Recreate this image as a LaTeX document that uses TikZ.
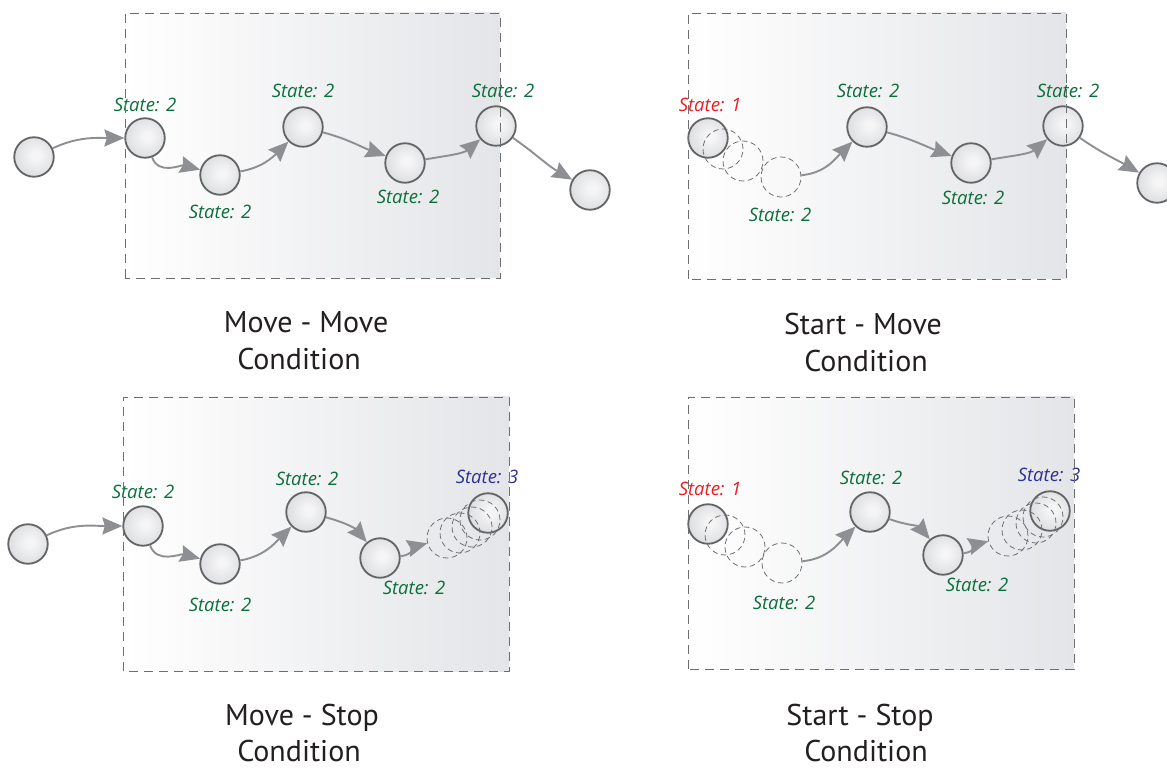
\documentclass[tikz,border=0pt]{standalone}
\usepackage{fontspec}
\setmainfont{PT Sans}
\newfontfamily\labelfont{Open Sans}
\usetikzlibrary{arrows.meta}

\definecolor{stgreen}{HTML}{0B6F3B}
\definecolor{stred}{HTML}{ED1C24}
\definecolor{stblue}{HTML}{2E3192}
\definecolor{titleblack}{HTML}{231F20}
\definecolor{ballrim}{HTML}{636466}
\definecolor{ballhi}{HTML}{F5F5F6}
\definecolor{ballmid}{HTML}{DCDDDF}
\definecolor{balllo}{HTML}{ABACAF}
\definecolor{ghostgray}{HTML}{707173}
\definecolor{flowgray}{HTML}{8E8F92}
\definecolor{panelgray}{HTML}{E4E5E8}
\definecolor{framegray}{HTML}{6D6E70}

% soft sphere look for the moving object
\pgfdeclareradialshading{ballshade}{\pgfpoint{3bp}{2bp}}{%
  color(0bp)=(ballhi); color(5bp)=(ballhi); color(28bp)=(ballmid);
  color(50bp)=(balllo); color(70bp)=(balllo)}

\tikzset{
  ball/.style={circle, draw=ballrim, line width=1.8pt, minimum size=39.5pt,
    inner sep=0pt, shading=ballshade},
  ghost/.style={circle, draw=ghostgray, line width=0.8pt,
    dash pattern=on 5.5pt off 3.5pt, minimum size=40pt, inner sep=0pt},
  flow/.style={draw=flowgray, line width=1.9pt,
    -{Stealth[length=20pt,width=17pt,inset=2.5pt,fill=flowgray]}},
  panel/.style={left color=white, right color=panelgray},
  frame/.style={draw=framegray, line width=0.9pt, dash pattern=on 9pt off 6pt},
  lbl/.style={font=\labelfont\fontsize{18.5}{22}\selectfont\itshape, inner sep=0pt},
  s1/.style={lbl, text=stred},
  s2/.style={lbl, text=stgreen},
  s3/.style={lbl, text=stblue},
  title/.style={font=\fontsize{30}{36}\selectfont, text=titleblack,
    anchor=base, inner sep=0pt}
}

\begin{document}
\begin{tikzpicture}[x=1pt, y=1pt]
\useasboundingbox (0,0) rectangle (1167,769);

% shaded panel backgrounds
\path[panel] (125,491) rectangle (500,756);
\path[panel] (688,490) rectangle (1066,756);
\path[panel] (123,98) rectangle (509,372);
\path[panel] (688,100) rectangle (1074,372);

% ---------- Move - Move ----------
\node[ball] (a0) at (34,612) {};
\node[ball] (a1) at (145,631) {};
\node[ball] (a2) at (220,594) {};
\node[ball] (a3) at (303,642) {};
\node[ball] (a4) at (405,606) {};
\node[ball] (a5) at (496,643) {};
\node[ball] (a6) at (590,579) {};
\node[s2] (la1) at (145,664) {State: 2};
\node[s2] (la2) at (220,557) {State: 2};
\node[s2] (la3) at (303,678) {State: 2};
\node[s2] (la4) at (408,572) {State: 2};
\node[s2] (la5) at (503,678) {State: 2};
\draw[flow] (a0) to[out=25, in=180] (a1);
\draw[flow] (a1) to[out=-70, in=165] (a2);
\draw[flow] (a2) to[out=10, in=-135] (a3);
\draw[flow] (a3) to[out=-15, in=160] (a4);
\draw[flow] (a4) to[out=10, in=-140] (a5);
\draw[flow] (a5) to[out=-35, in=150] (a6);
\node[title] (ta1) at (306,436) {Move - Move};
\node[title] (ta2) at (299,399) {Condition};

% ---------- Start - Move ----------
\node[ball] (b1) at (708,631) {};
\node[ghost] (bg1) at (723,620) {};
\node[ghost] (bg2) at (743,608) {};
\node[ghost] (bg3) at (781,592) {};
\node[ball] (b2) at (867,642) {};
\node[ball] (b3) at (971,606) {};
\node[ball] (b4) at (1063,643) {};
\node[ball] (b5) at (1157,586) {};
\node[s1] (lb1) at (710,664) {State: 1};
\node[s2] (lbg) at (780,554) {State: 2};
\node[s2] (lb2) at (868,678) {State: 2};
\node[s2] (lb3) at (973,571) {State: 2};
\node[s2] (lb4) at (1068,678) {State: 2};
\draw[flow] (bg3) to[out=5, in=-135] (b2);
\draw[flow] (b2) to[out=-15, in=160] (b3);
\draw[flow] (b3) to[out=10, in=-140] (b4);
\draw[flow] (b4) to[out=-35, in=150] (b5);
\node[title] (tb1) at (863,434) {Start - Move};
\node[title] (tb2) at (866,397) {Condition};

% ---------- Move - Stop ----------
\node[ball] (c0) at (28,225) {};
\node[ball] (c1) at (143,243) {};
\node[ball] (c2) at (220,205) {};
\node[ball] (c3) at (306,257) {};
\node[ball] (c4) at (380,211) {};
\node[ball] (c5) at (488,256) {};
\node[ghost] (cg1) at (447,231) {};
\node[ghost] (cg2) at (460,236) {};
\node[ghost] (cg3) at (472,242) {};
\node[ghost] (cg4) at (480,249) {};
\node[s2] (lc1) at (143,277) {State: 2};
\node[s2] (lc2) at (220,164) {State: 2};
\node[s2] (lc3) at (307,290) {State: 2};
\node[s2] (lc4) at (414,181) {State: 2};
\node[s3] (lc5) at (487,292) {State: 3};
\draw[flow] (c0) to[out=25, in=180] (c1);
\draw[flow] (c1) to[out=-70, in=165] (c2);
\draw[flow] (c2) to[out=10, in=-135] (c3);
\draw[flow] (c3) to[out=-15, in=130] (c4);
\draw[flow] (c4) to[out=5, in=195] (cg1);
\node[title] (tc1) at (302,44) {Move - Stop};
\node[title] (tc2) at (299,8) {Condition};

% ---------- Start - Stop ----------
\node[ball] (d1) at (708,245) {};
\node[ghost] (dg1) at (725,234) {};
\node[ghost] (dg2) at (745,222) {};
\node[ghost] (dg3) at (782,206) {};
\node[ball] (d2) at (870,257) {};
\node[ball] (d3) at (943,214) {};
\node[ball] (d4) at (1050,258) {};
\node[ghost] (dh1) at (1008,233) {};
\node[ghost] (dh2) at (1022,239) {};
\node[ghost] (dh3) at (1036,246) {};
\node[ghost] (dh4) at (1043,252) {};
\node[s1] (ld1) at (710,280) {State: 1};
\node[s2] (ldg) at (784,166) {State: 2};
\node[s2] (ld2) at (871,291) {State: 2};
\node[s2] (ld3) at (977,184) {State: 2};
\node[s3] (ld4) at (1049,294) {State: 3};
\draw[flow] (dg3) to[out=5, in=-135] (d2);
\draw[flow] (d2) to[out=-20, in=130] (d3);
\draw[flow] (d3) to[out=5, in=195] (dh1);
\node[title] (td1) at (860,44) {Start - Stop};
\node[title] (td2) at (866,8) {Condition};

% dashed panel frames on top
\path[frame] (125,491) rectangle (500,756);
\path[frame] (688,490) rectangle (1066,756);
\path[frame] (123,98) rectangle (509,372);
\path[frame] (688,100) rectangle (1074,372);
\end{tikzpicture}
\end{document}
